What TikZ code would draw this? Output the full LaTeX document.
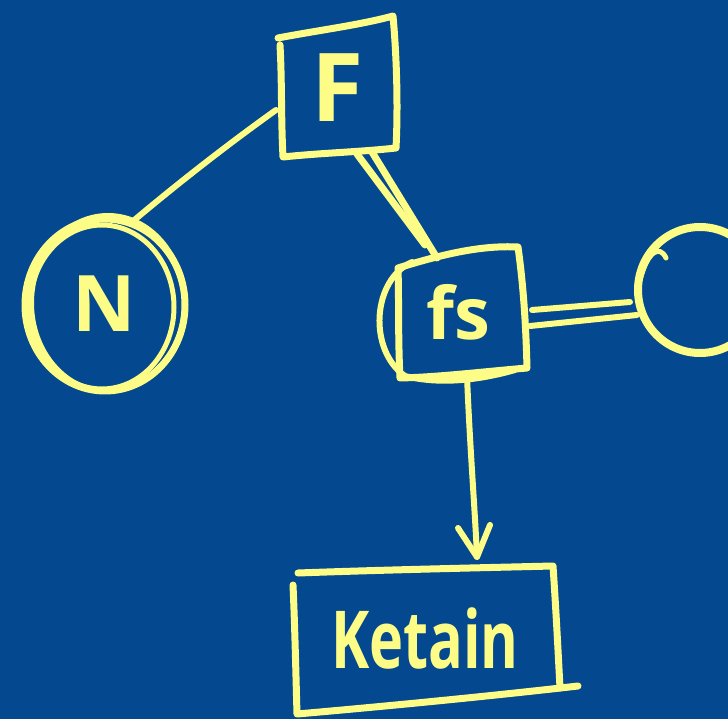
\documentclass[tikz,border=0pt]{standalone}
\usepackage{fontspec}
\setmainfont{Open Sans}
\definecolor{bg}{HTML}{04488F}
\definecolor{ink}{HTML}{FCFC86}
\begin{document}
\begin{tikzpicture}[x=1pt,y=-1pt,line cap=round,line join=round,
  pen/.style={draw=ink,line width=7pt},
  lbl/.style={text=ink,font=\fontsize{#1}{#1}\selectfont\bfseries,inner sep=0pt}]
\fill[bg] (0,0) rectangle (728,719);
\useasboundingbox (0,0) rectangle (728,719);
\begin{scope}
\clip (0,0) rectangle (728,719);
% F box
\draw[pen] (278,38) .. controls (320,30) and (360,25) .. (393,16) .. controls (397,60) and (398,110) .. (396,148)
  .. controls (360,152) and (320,153) .. (283,157) .. controls (281,120) and (282,80) .. (280,45);
\node[lbl=95pt] (F) at (338,88) {F};
\coordinate (Fl) at (276,110);
\coordinate (Fb1) at (357,154);
\coordinate (Fb2) at (372,152);
% N circle
\draw[pen] (105,305) ellipse [x radius=80,y radius=86];
\draw[pen,line width=5pt] (102,307) ellipse [x radius=72,y radius=82];
\draw[pen,line width=4pt] (108,303) ellipse [x radius=76,y radius=88];
\node[lbl=78pt] (N) at (104,304) {N};
\coordinate (Nt) at (132,222);
% fs box
\draw[pen] (398,268) .. controls (440,255) and (480,245) .. (518,247) .. controls (524,290) and (526,330) .. (527,368)
  .. controls (480,372) and (440,377) .. (400,378) .. controls (398,340) and (399,300) .. (398,268);
\draw[pen,line width=6pt] (412,262) .. controls (372,280) and (368,350) .. (405,376) .. controls (440,385) and (480,380) .. (515,370);
\node[lbl=72pt] (fs) at (458,312) {fs};
\coordinate (fst1) at (437,258);
\coordinate (fst2) at (425,245);
\coordinate (fsr1) at (532,310);
\coordinate (fsr2) at (530,326);
\coordinate (fsb) at (467,376);
% right circle
\draw[pen,line width=8pt] (700,290) ellipse [x radius=62,y radius=63];
\draw[pen,line width=5pt] (640,280) .. controls (648,250) and (660,245) .. (666,258);
\coordinate (Cl1) at (630,302);
\coordinate (Cl2) at (637,315);
% Ketain box
\draw[pen] (298,573) .. controls (380,570) and (470,568) .. (553,566) .. controls (556,610) and (558,650) .. (560,688);
\draw[pen] (293,585) .. controls (295,630) and (296,680) .. (297,714) .. controls (400,705) and (500,695) .. (578,686);
\node[lbl=80pt,xscale=0.72] (K) at (425,638) {Ketain};
\coordinate (Kt) at (477,557);
% connectors
\draw[pen,line width=6pt] (Fl) .. controls (220,150) and (170,190) .. (Nt);
\draw[pen] (Fb1) -- (fst2);
\draw[pen] (Fb2) -- (fst1);
\draw[pen,line width=6pt] (fsr1) -- (Cl1);
\draw[pen,line width=6pt] (fsr2) -- (Cl2);
\draw[pen,line width=6pt] (fsb) .. controls (470,450) and (475,510) .. (Kt);
\draw[pen,line width=6pt] (458,528) -- (Kt) -- (490,525);
\end{scope}
\end{tikzpicture}
\end{document}
